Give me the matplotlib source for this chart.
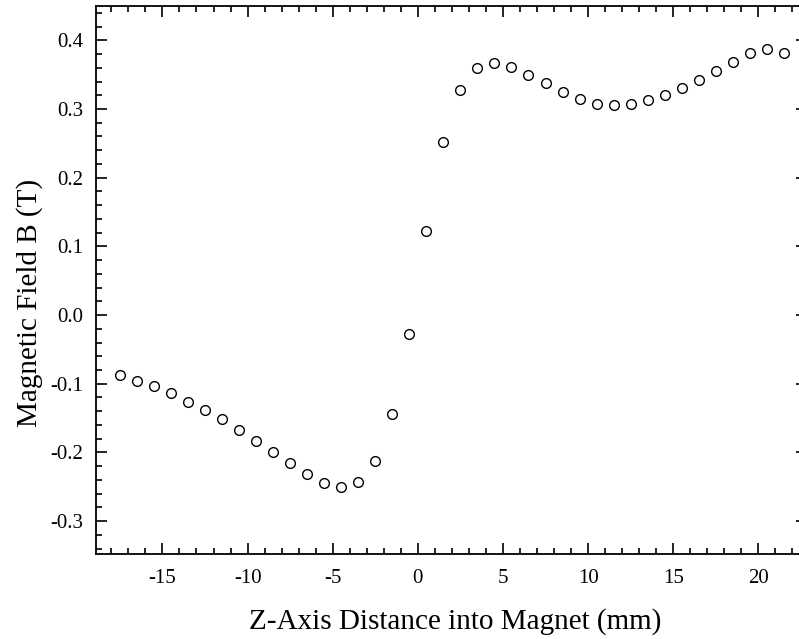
import numpy as np
import matplotlib
matplotlib.use("Agg")
import matplotlib.pyplot as plt
from matplotlib.ticker import MultipleLocator

# measured field along the magnet axis
z_mm = [-17.5, -16.5, -15.5, -14.5, -13.5, -12.5, -11.5, -10.5, -9.5, -8.5,
        -7.5, -6.5, -5.5, -4.5, -3.5, -2.5, -1.5, -0.5, 0.5, 1.5,
        2.5, 3.5, 4.5, 5.5, 6.5, 7.5, 8.5, 9.5, 10.5, 11.5,
        12.5, 13.5, 14.5, 15.5, 16.5, 17.5, 18.5, 19.5, 20.5, 21.5]
b_tesla = [-0.087, -0.096, -0.104, -0.114, -0.126, -0.139, -0.152, -0.167, -0.183, -0.199,
           -0.216, -0.232, -0.244, -0.250, -0.243, -0.213, -0.144, -0.028, 0.123, 0.252,
           0.327, 0.360, 0.367, 0.361, 0.350, 0.338, 0.325, 0.315, 0.308, 0.306,
           0.308, 0.313, 0.320, 0.330, 0.342, 0.355, 0.368, 0.381, 0.387, 0.381]

plt.rcParams["font.family"] = "Liberation Serif"
plt.rcParams["axes.unicode_minus"] = False

fig = plt.figure(figsize=(7.99, 6.39), dpi=100)
ax = fig.add_axes([0.1202, 0.133, 0.8811, 0.8576])

ax.plot(z_mm, b_tesla, linestyle="none", marker="o", markersize=7,
        markerfacecolor="none", markeredgecolor="black", markeredgewidth=1.0)

ax.set_xlim(-18.9, 22.45)
ax.set_ylim(-0.348, 0.45)

ax.xaxis.set_major_locator(MultipleLocator(5))
ax.xaxis.set_minor_locator(MultipleLocator(1))
ax.yaxis.set_major_locator(MultipleLocator(0.1))
ax.yaxis.set_minor_locator(MultipleLocator(0.02))
ax.yaxis.set_major_formatter(plt.FuncFormatter(lambda v, p: f"{v:.1f}"))

ax.tick_params(which="both", direction="in", top=True, right=False,
               width=1.2, labelsize=15)
ax.tick_params(axis="y", pad=9)
ax.tick_params(axis="x", pad=10.5)
ax.tick_params(which="major", length=8)
ax.tick_params(which="minor", length=4)

for side in ("left", "bottom", "top"):
    ax.spines[side].set_linewidth(1.3)
ax.spines["right"].set_visible(False)

# short stubs on the right edge at the major y ticks
sec = ax.secondary_yaxis("right")
sec.yaxis.set_major_locator(MultipleLocator(0.1))
sec.tick_params(direction="in", length=3, width=1.2, labelright=False)
sec.spines["right"].set_visible(False)

ax.set_xlabel("Z-Axis Distance into Magnet (mm)", fontsize=21)
ax.set_ylabel("Magnetic Field B (T)", fontsize=21)
ax.xaxis.set_label_coords(0.51, -0.098)
ax.yaxis.set_label_coords(-0.076, 0.458)

fig.savefig("out.png", dpi=100)
